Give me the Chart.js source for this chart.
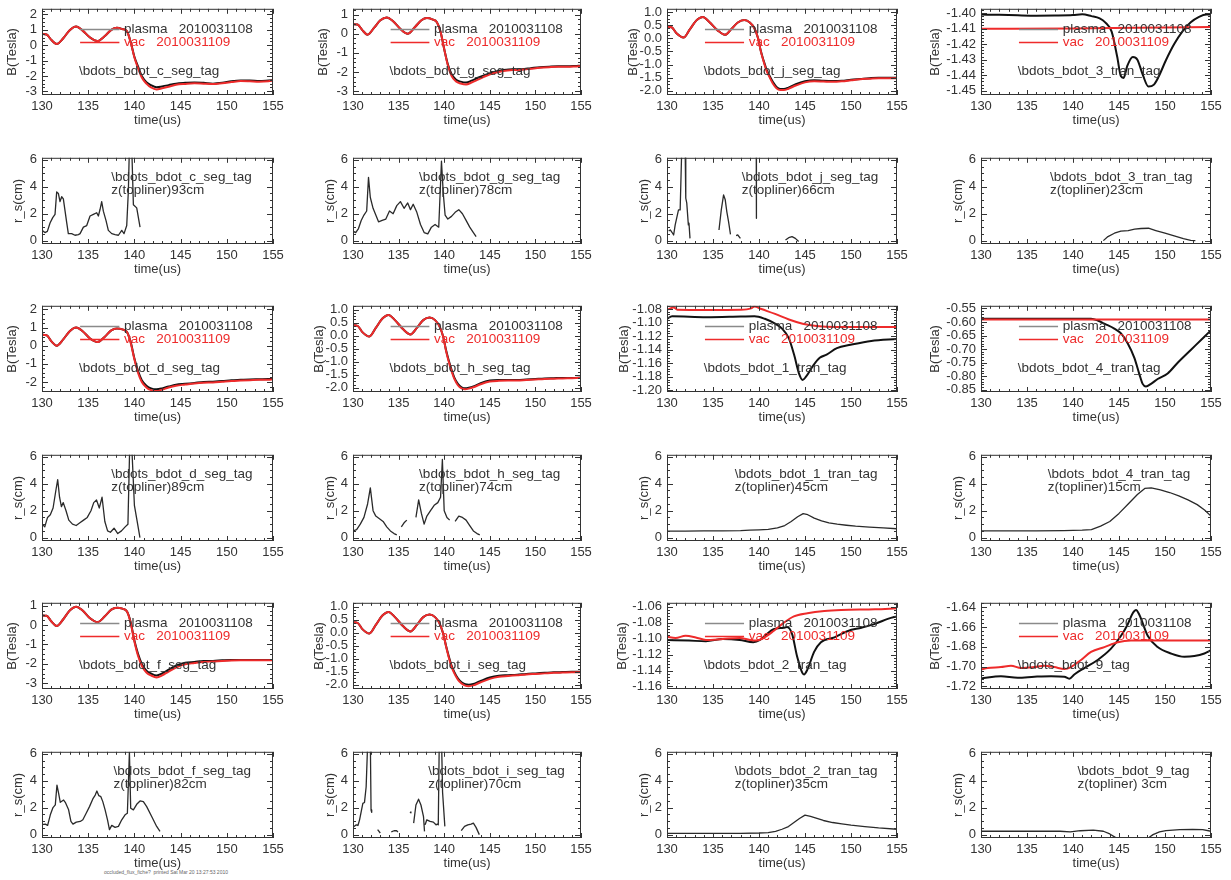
<!DOCTYPE html>
<html>
<head>
<meta charset="utf-8">
<script src="https://cdn.jsdelivr.net/npm/chart.js@4.4.0/dist/chart.umd.min.js"></script>
<style>
body { margin: 0; background: #fff; width: 1231px; height: 880px; position: relative; overflow: hidden; font-family: "Liberation Sans", Arial, sans-serif; }
canvas { position: absolute; }
#foot { position: absolute; left: 104px; top: 869px; font-size: 5px; color: #666; white-space: pre; }
</style>
</head>
<body>
<div id="foot">occluded_flux_fiche?  printed Sat Mar 20 13:27:53 2010</div>
<script>
// ---------- axis ticks ----------
const xTicks = [130, 135, 140, 145, 150, 155];
const rsTicks = [0, 2, 4, 6];

// ---------- seg probes: shared time bases ----------
const tSegA = [130,130.5,131,131.6,132.3,133,133.7,134.4,135.2,136,136.8,137.5,138.1,138.7,139.2,139.6,140,140.4,140.8,141.3,141.8,142.4,143,143.7,144.5,145.5,146.5,147.5,148.5,149.5,150.5,151.5,152.5,153.5,154.5,155];
const tSegB = [130,130.5,131,131.8,132.5,133.2,133.9,134.6,135.5,136.3,137,137.7,138.4,139,139.5,139.9,140.2,140.5,140.8,141.1,141.5,141.9,142.3,142.7,143.2,144,145,146,147,148,149,150,151,152,153,154,155];

// c_seg
const plasmaC = [0.73,0.7,0.35,0.08,0.45,0.98,1.22,0.95,0.5,0.27,0.6,1.0,1.13,1.05,0.9,0.2,-0.75,-1.4,-2.0,-2.4,-2.6,-2.73,-2.68,-2.6,-2.5,-2.45,-2.42,-2.45,-2.5,-2.45,-2.35,-2.3,-2.3,-2.33,-2.3,-2.28];
const vacC    = [0.73,0.7,0.35,0.08,0.45,0.98,1.22,0.95,0.5,0.27,0.6,1.0,1.13,1.05,0.9,0.18,-0.8,-1.5,-2.1,-2.5,-2.75,-2.88,-2.8,-2.7,-2.58,-2.52,-2.48,-2.5,-2.52,-2.47,-2.4,-2.33,-2.35,-2.38,-2.35,-2.3];
// g_seg
const plasmaG = [0.5,0.48,0.2,-0.05,0.3,0.7,0.85,0.65,0.25,0.0,0.35,0.7,0.82,0.75,0.6,0.1,-0.8,-1.6,-2.1,-2.4,-2.5,-2.55,-2.45,-2.3,-2.15,-2.0,-1.9,-1.85,-1.85,-1.8,-1.75,-1.72,-1.7,-1.7,-1.68,-1.67];
const vacG    = [0.5,0.48,0.2,-0.05,0.3,0.7,0.85,0.65,0.25,0.0,0.35,0.7,0.82,0.75,0.6,0.1,-0.8,-1.65,-2.2,-2.5,-2.6,-2.65,-2.55,-2.4,-2.22,-2.05,-1.95,-1.9,-1.88,-1.83,-1.78,-1.75,-1.73,-1.73,-1.71,-1.7];
// j_seg
const plasmaJ = [0.44,0.42,0.2,0.03,0.35,0.68,0.81,0.62,0.3,0.13,0.35,0.6,0.69,0.6,0.38,0.0,-0.49,-0.85,-1.17,-1.4,-1.66,-1.85,-1.93,-1.93,-1.88,-1.75,-1.64,-1.6,-1.62,-1.63,-1.62,-1.58,-1.55,-1.52,-1.5,-1.5,-1.5];
const vacJ    = [0.44,0.42,0.2,0.03,0.35,0.68,0.81,0.62,0.3,0.13,0.35,0.6,0.69,0.6,0.38,0.0,-0.5,-0.88,-1.22,-1.45,-1.72,-1.9,-1.97,-1.97,-1.92,-1.8,-1.68,-1.64,-1.65,-1.66,-1.64,-1.6,-1.56,-1.54,-1.52,-1.52,-1.52];
// d_seg
const plasmaD = [0.6,0.58,0.25,0.0,0.35,0.8,1.0,0.8,0.4,0.2,0.5,0.85,0.95,0.9,0.75,0.2,-0.7,-1.4,-1.9,-2.2,-2.35,-2.4,-2.35,-2.25,-2.15,-2.1,-2.05,-2.0,-1.98,-1.95,-1.9,-1.88,-1.86,-1.85,-1.84,-1.82];
const vacD    = [0.6,0.58,0.25,0.0,0.35,0.8,1.0,0.8,0.4,0.2,0.5,0.85,0.95,0.9,0.75,0.15,-0.75,-1.5,-2.0,-2.3,-2.45,-2.5,-2.42,-2.3,-2.2,-2.14,-2.08,-2.04,-2.02,-1.98,-1.94,-1.92,-1.9,-1.88,-1.87,-1.85];
// h_seg
const plasmaH = [0.4,0.38,0.15,-0.03,0.3,0.65,0.8,0.6,0.25,0.05,0.3,0.6,0.7,0.6,0.35,-0.05,-0.55,-0.95,-1.3,-1.6,-1.85,-1.98,-2.02,-2.0,-1.95,-1.82,-1.72,-1.7,-1.7,-1.7,-1.68,-1.66,-1.64,-1.63,-1.62,-1.62,-1.6];
const vacH    = [0.4,0.38,0.15,-0.03,0.3,0.65,0.8,0.6,0.25,0.05,0.3,0.6,0.7,0.6,0.35,-0.05,-0.58,-1.0,-1.35,-1.65,-1.9,-2.02,-2.05,-2.03,-1.98,-1.86,-1.76,-1.73,-1.72,-1.72,-1.7,-1.68,-1.66,-1.65,-1.64,-1.63,-1.62];
// f_seg
const plasmaF = [0.5,0.48,0.2,-0.05,0.3,0.75,0.95,0.75,0.35,0.15,0.45,0.8,0.9,0.85,0.7,0.15,-0.8,-1.5,-2.0,-2.35,-2.5,-2.6,-2.5,-2.3,-2.1,-1.95,-1.9,-1.85,-1.85,-1.82,-1.8,-1.8,-1.8,-1.8,-1.8,-1.8];
const vacF    = [0.5,0.48,0.2,-0.05,0.3,0.75,0.95,0.75,0.35,0.15,0.45,0.8,0.9,0.85,0.7,0.1,-0.85,-1.6,-2.1,-2.45,-2.6,-2.7,-2.6,-2.4,-2.2,-2.03,-1.96,-1.9,-1.88,-1.85,-1.83,-1.82,-1.82,-1.82,-1.82,-1.82];
// i_seg
const plasmaI = [0.4,0.38,0.15,-0.03,0.3,0.65,0.8,0.6,0.25,0.05,0.3,0.6,0.7,0.6,0.35,-0.05,-0.5,-0.9,-1.25,-1.5,-1.75,-1.9,-1.98,-2.0,-1.97,-1.85,-1.72,-1.65,-1.63,-1.61,-1.58,-1.56,-1.54,-1.52,-1.51,-1.5,-1.5];
const vacI    = [0.4,0.38,0.15,-0.03,0.3,0.65,0.8,0.6,0.25,0.05,0.3,0.6,0.7,0.6,0.35,-0.05,-0.52,-0.95,-1.3,-1.55,-1.8,-1.95,-2.03,-2.05,-2.02,-1.9,-1.77,-1.69,-1.66,-1.63,-1.6,-1.58,-1.56,-1.54,-1.53,-1.52,-1.52];

// ---------- tran probes ----------
const tPlasma3 = [130,132,134,136,138,140,141,142,142.9,143.5,144.2,144.8,145.2,145.5,145.9,146.5,147,147.6,148.2,148.8,149.3,150.1,151,151.9,152.8,153.7,154.5,155];
const plasma3  = [-1.401,-1.4012,-1.4015,-1.4017,-1.4016,-1.4013,-1.4008,-1.402,-1.4035,-1.406,-1.412,-1.428,-1.4405,-1.4417,-1.434,-1.4283,-1.43,-1.44,-1.4473,-1.446,-1.441,-1.4304,-1.42,-1.4118,-1.406,-1.4025,-1.401,-1.401];
const tVac3 = [130,140,150,155];
const vac3  = [-1.4102,-1.4099,-1.4093,-1.409];

const tPlasma1 = [130,130.56,134.29,138.02,139.51,140.63,141.75,142.5,143.25,143.81,144.37,144.74,145.11,145.86,146.6,147.35,148.47,149.96,152.2,155];
const plasma1  = [-1.0944,-1.0906,-1.092,-1.091,-1.0906,-1.0944,-1.1016,-1.1088,-1.1232,-1.1472,-1.176,-1.1846,-1.1798,-1.164,-1.152,-1.1472,-1.1376,-1.1328,-1.127,-1.1242];
const tVac1 = [130,130.75,131.12,134.29,138.02,139.14,139.51,140.26,141.75,143.25,144.74,146.23,148.47,155];
const vac1  = [-1.081,-1.0776,-1.081,-1.0814,-1.081,-1.079,-1.0762,-1.08,-1.0872,-1.0954,-1.1016,-1.105,-1.1064,-1.1064];

const tPlasma4 = [130,137.61,141.96,142.68,143.41,144.49,145.22,145.94,146.67,147.21,147.57,147.93,148.48,149.2,150.29,151.38,152.83,154.28,155];
const plasma4  = [-0.5884,-0.5884,-0.5884,-0.5944,-0.6064,-0.6244,-0.6424,-0.6784,-0.7324,-0.7924,-0.8284,-0.838,-0.8284,-0.8104,-0.79,-0.7504,-0.7024,-0.6544,-0.6304];
const tVac4 = [130,140,150,155];
const vac4  = [-0.5905,-0.5905,-0.591,-0.591];

const tPlasma2 = [130,132.39,134.23,136.07,137.9,139.38,140.11,140.85,141.58,142.68,143.05,143.6,144.15,144.71,144.89,145.26,145.99,146.73,148.2,149.67,151.14,152.61,154.08,155];
const plasma2  = [-1.1017,-1.1025,-1.1033,-1.1005,-1.1017,-1.1045,-1.1017,-1.0944,-1.0883,-1.0863,-1.0855,-1.0944,-1.1228,-1.143,-1.145,-1.1389,-1.1167,-1.1045,-1.0985,-1.0904,-1.0863,-1.0815,-1.075,-1.0721];
const tVac2 = [130,130.92,132.02,133.13,134.23,136.07,137.9,139.01,139.74,140.48,141.58,142.68,143.79,145.26,147.1,148.93,152.61,155];
const vac2  = [-1.0977,-1.0993,-1.0964,-1.0985,-1.1017,-1.1005,-1.0993,-1.1017,-1.1025,-1.0993,-1.0904,-1.0802,-1.0721,-1.0681,-1.0653,-1.064,-1.0632,-1.062];

const tPlasma9 = [130,132.17,133.99,135.8,137.61,139.06,139.6,140.14,141.23,142.68,144.13,145.22,145.94,146.49,146.85,147.21,148.12,149.2,150.65,152.1,153.19,154.28,155];
const plasma9  = [-1.712,-1.7096,-1.7112,-1.7102,-1.7096,-1.7102,-1.7122,-1.7079,-1.7014,-1.6932,-1.6818,-1.6687,-1.6573,-1.6459,-1.6426,-1.6475,-1.6687,-1.6802,-1.6867,-1.69,-1.6893,-1.6867,-1.6834];
const tVac9 = [130,130.72,132.17,133.26,134.35,135.8,136.88,137.97,139.06,139.78,140.87,141.96,143.41,144.86,146.3,148.48,155];
const vac9  = [-1.703,-1.7014,-1.7004,-1.6991,-1.7014,-1.7004,-1.6991,-1.7004,-1.7024,-1.7004,-1.6932,-1.6851,-1.6802,-1.6753,-1.6736,-1.6736,-1.6736];

// ---------- r_s (null = no value) ----------
const tRc = [130,130.32,130.58,130.87,131.16,131.41,131.59,131.77,131.95,132.13,132.31,132.67,132.85,133.21,133.57,133.94,134.12,134.48,134.84,135.2,135.56,135.92,136.1,136.28,136.46,136.64,136.93,137.18,137.55,137.91,138.27,138.63,138.88,139.17,139.35,139.46,139.71,139.89,140.25,140.61];
const rsC = [0.76,0.6,0.69,1.31,1.71,1.95,3.62,3.5,2.9,3.26,3.1,1.36,0.52,0.52,0.4,0.45,0.52,1.0,1.12,1.83,1.95,2.07,1.83,2.31,2.9,2.19,1.48,0.76,0.52,0.45,0.4,0.76,0.52,1.12,3.74,7,7,2.67,2.43,1.0];
const tRg = [130,130.3,130.6,130.9,131.2,131.5,131.7,131.9,132.2,132.5,132.8,133.2,133.6,134,134.4,134.8,135.2,135.6,136,136.3,136.6,137,137.4,137.8,138.2,138.6,139,139.4,139.7,139.9,140.1,140.4,140.8,141.2,141.6,142,142.4,142.8,143.2,143.5];
const rsG = [0.7,0.6,0.9,1.5,1.9,2.2,4.7,3.2,2.4,1.9,1.4,1.5,1.6,2.2,2.0,2.6,2.9,2.4,2.8,2.3,2.7,2.1,1.2,0.6,0.5,1.0,1.2,1.0,5.9,3.5,1.9,1.6,1.8,2.1,2.3,2.0,1.5,1.0,0.6,0.3];
const tRj = [130.18,130.36,130.54,130.72,130.89,131.25,131.43,131.61,131.79,131.97,132.04,132.15,132.32,132.39,132.5,133.5,135.65,135.9,136.15,136.33,136.5,136.69,136.9,137.2,137.51,137.69,137.98,138.8,139.7,139.72,141,142.88,143.23,143.59,143.95,144.31];
const rsJ = [0.72,0.79,0.62,0.42,1.17,2.28,2.28,7,7,7,3.15,2.78,1.17,1.29,0.17,null,0.79,2.28,3.4,3.03,2.16,1.41,0.47,null,0.37,0.42,0.17,null,7,1.66,null,0.05,0.22,0.3,0.17,-0.07];
const tR3 = [143.3,143.8,144.5,145.2,146,146.7,147.4,148.2,149,150,151,152,152.8,153.3];
const rs3 = [0,0.3,0.55,0.7,0.75,0.85,0.9,0.92,0.75,0.55,0.35,0.15,0.02,0];
const tRd = [130,130.3,130.6,130.9,131.2,131.5,131.7,131.9,132.1,132.3,132.6,132.9,133.3,133.7,134.1,134.5,134.9,135.3,135.6,135.9,136.2,136.5,136.8,137.1,137.4,137.8,138.2,138.6,139,139.3,139.5,139.7,140,140.3,140.6];
const rsD = [1.0,0.8,1.5,1.7,2.2,3.5,4.3,3.0,2.3,2.6,2.0,1.3,1.0,0.9,1.1,1.3,1.5,2.0,2.6,2.8,2.2,3.0,1.2,0.5,0.4,0.7,0.3,0.5,0.8,1.0,7,7,2.4,1.2,0.0];
const tRh = [130,130.4,130.8,131.2,131.6,131.9,132.2,132.5,132.9,133.3,133.7,134.1,134.5,134.8,135.0,135.3,135.6,135.9,136.4,136.9,137.2,137.5,137.8,138.1,138.5,138.9,139.3,139.6,139.8,140.0,140.3,140.6,140.9,141.2,141.6,142,142.4,142.8,143.2,143.6,143.9];
const rsH = [0.5,0.6,1.0,1.5,2.5,3.7,2.0,1.6,1.4,1.2,0.8,0.5,0.3,0.2,null,0.8,1.1,1.3,null,1.5,2.8,1.8,1.0,1.6,2.0,2.4,2.6,3.0,5.8,2.0,1.5,1.3,null,1.2,1.6,1.5,1.3,0.9,0.5,0.3,0.2];
const tR1 = [130,132,134,136,138,139,140,141,142,142.8,143.5,144.2,144.8,145.3,146,146.8,147.6,148.5,149.5,150.5,152,153.5,155];
const rs1 = [0.48,0.48,0.5,0.5,0.52,0.55,0.58,0.62,0.72,0.9,1.2,1.55,1.78,1.7,1.45,1.25,1.1,1.0,0.92,0.85,0.78,0.72,0.66];
const tR4 = [130,133,136,139,141,142,143,144,145,146,147,147.8,148.5,149.5,150.5,151.5,152.5,153.5,154.3,155];
const rs4 = [0.5,0.5,0.5,0.52,0.55,0.6,0.85,1.2,1.8,2.5,3.2,3.65,3.7,3.55,3.35,3.1,2.8,2.45,2.05,1.6];
const tRf = [130,130.36,130.61,130.9,131.19,131.44,131.62,131.8,131.98,132.34,132.52,132.88,133.13,133.35,133.71,134.14,134.42,134.78,135.14,135.5,135.76,135.94,136.15,136.37,136.58,136.83,137.09,137.3,137.55,137.91,138.27,138.63,138.99,139.24,139.46,139.6,139.89,140.25,140.61,140.97,141.33,141.87,142.41,142.77];
const rsF = [0.74,0.78,0.69,1.47,2.01,2.21,3.68,3.06,2.4,2.57,2.4,1.84,0.98,0.78,0.93,0.98,1.1,1.59,2.08,2.65,2.94,3.24,2.89,2.82,2.45,1.84,1.1,0.37,0.69,0.54,0.61,1.1,1.47,1.59,6.13,1.96,1.84,2.25,2.5,2.45,2.08,1.35,0.61,0.25];
const tRi = [130,130.36,130.54,130.72,131.08,131.26,131.44,131.62,131.7,131.8,131.9,131.98,132.05,132.3,132.7,132.99,133.5,134.2,134.5,134.78,134.93,135.5,136.25,136.35,136.5,136.65,136.9,137.19,137.45,137.73,137.84,137.88,137.91,138.09,138.45,138.81,139.1,139.24,139.35,139.46,139.71,139.82,140.07,140.5,141.87,142.23,142.59,142.95,143.2,143.49,143.85];
const rsI = [0.54,0.73,0.68,1.1,2.32,2.39,3.54,7,7,7,7,1.83,1.66,null,0.37,0.12,null,0.2,0.29,0.29,0.2,null,1.68,1.62,null,0.85,2.2,2.63,2.2,1.34,0.24,null,0.73,1.1,0.98,0.93,0.73,0.78,0.73,7,7,3.17,0.61,null,0.29,0.61,0.73,0.78,0.85,0.54,0.0];
const tR2 = [130,132,134,136,138,140,141,141.8,142.5,143.2,143.8,144.4,145,145.6,146.3,147,148,149,150,151.5,153,155];
const rs2 = [0.1,0.1,0.1,0.1,0.1,0.12,0.15,0.25,0.4,0.6,0.9,1.2,1.45,1.35,1.2,1.05,0.9,0.8,0.7,0.6,0.5,0.4];
const tR9 = [130,134.3,138.6,139.7,140.8,142.2,143.3,144,144.6,144.9,146.5,148,148.3,148.7,149.4,150.1,151.6,153,154.1,155];
const rs9 = [0.25,0.25,0.25,0.2,0.29,0.34,0.25,0.05,-0.2,-0.5,-1.5,-0.5,-0.2,0,0.2,0.29,0.37,0.39,0.37,0.25];

// ---------- layout ----------
const colBox = [[42, 273], [353, 581], [667, 897], [981, 1211]];
const rowTop = [6, 155, 303, 452, 600, 749];
const boxH = 89, padTop = 10, padRight = 25, xAxisH = 33;
const RED = '#ee2b2b';
const rsRange = [-0.25, 6.15];

const panels = [
  {r:0, c:0, kind:'B', range:[-3.24, 2.37], ticks:[-3,-2,-1,0,1,2], dec:0, w:37, plasma:[tSegA, plasmaC], vac:[tSegA, vacC], tag:'\\bdots_bdot_c_seg_tag'},
  {r:0, c:1, kind:'B', range:[-3.2, 1.3], ticks:[-3,-2,-1,0,1], dec:0, w:37, plasma:[tSegA, plasmaG], vac:[tSegA, vacG], tag:'\\bdots_bdot_g_seg_tag'},
  {r:0, c:2, kind:'B', range:[-2.16, 1.12], ticks:[-2,-1.5,-1,-0.5,0,0.5,1], dec:1, w:41, plasma:[tSegB, plasmaJ], vac:[tSegB, vacJ], tag:'\\bdots_bdot_j_seg_tag'},
  {r:0, c:3, kind:'B', range:[-1.4527, -1.3973], ticks:[-1.45,-1.44,-1.43,-1.42,-1.41,-1.40], dec:2, w:53, plasma:[tPlasma3, plasma3], vac:[tVac3, vac3], tag:'\\bdots_bdot_3_tran_tag'},
  {r:1, c:0, kind:'R', rs:[tRc, rsC], w:31, tag:'\\bdots_bdot_c_seg_tag', z:'z(topliner)93cm', tx:0.30},
  {r:1, c:1, kind:'R', rs:[tRg, rsG], w:30, tag:'\\bdots_bdot_g_seg_tag', z:'z(topliner)78cm', tx:0.29},
  {r:1, c:2, kind:'R', rs:[tRj, rsJ], w:30, tag:'\\bdots_bdot_j_seg_tag', z:'z(topliner)66cm', tx:0.325},
  {r:1, c:3, kind:'R', rs:[tR3, rs3], w:30, tag:'\\bdots_bdot_3_tran_tag', z:'z(topliner)23cm', tx:0.30},
  {r:2, c:0, kind:'B', range:[-2.55, 2.2], ticks:[-2,-1,0,1,2], dec:0, w:37, plasma:[tSegA, plasmaD], vac:[tSegA, vacD], tag:'\\bdots_bdot_d_seg_tag'},
  {r:2, c:1, kind:'B', range:[-2.16, 1.15], ticks:[-2,-1.5,-1,-0.5,0,0.5,1], dec:1, w:41, plasma:[tSegB, plasmaH], vac:[tSegB, vacH], tag:'\\bdots_bdot_h_seg_tag'},
  {r:2, c:2, kind:'B', range:[-1.2024, -1.0752], ticks:[-1.20,-1.18,-1.16,-1.14,-1.12,-1.10,-1.08], dec:2, w:50, plasma:[tPlasma1, plasma1], vac:[tVac1, vac1], tag:'\\bdots_bdot_1_tran_tag'},
  {r:2, c:3, kind:'B', range:[-0.8584, -0.5404], ticks:[-0.85,-0.80,-0.75,-0.70,-0.65,-0.60,-0.55], dec:2, w:53, plasma:[tPlasma4, plasma4], vac:[tVac4, vac4], tag:'\\bdots_bdot_4_tran_tag'},
  {r:3, c:0, kind:'R', rs:[tRd, rsD], w:31, tag:'\\bdots_bdot_d_seg_tag', z:'z(topliner)89cm', tx:0.30},
  {r:3, c:1, kind:'R', rs:[tRh, rsH], w:30, tag:'\\bdots_bdot_h_seg_tag', z:'z(topliner)74cm', tx:0.29},
  {r:3, c:2, kind:'R', rs:[tR1, rs1], w:30, tag:'\\bdots_bdot_1_tran_tag', z:'z(topliner)45cm', tx:0.295},
  {r:3, c:3, kind:'R', rs:[tR4, rs4], w:30, tag:'\\bdots_bdot_4_tran_tag', z:'z(topliner)15cm', tx:0.29},
  {r:4, c:0, kind:'B', range:[-3.3, 1.15], ticks:[-3,-2,-1,0,1], dec:0, w:37, plasma:[tSegA, plasmaF], vac:[tSegA, vacF], tag:'\\bdots_bdot_f_seg_tag'},
  {r:4, c:1, kind:'B', range:[-2.16, 1.15], ticks:[-2,-1.5,-1,-0.5,0,0.5,1], dec:1, w:41, plasma:[tSegB, plasmaI], vac:[tSegB, vacI], tag:'\\bdots_bdot_i_seg_tag'},
  {r:4, c:2, kind:'B', range:[-1.1632, -1.0551], ticks:[-1.16,-1.14,-1.12,-1.10,-1.08,-1.06], dec:2, w:52, plasma:[tPlasma2, plasma2], vac:[tVac2, vac2], tag:'\\bdots_bdot_2_tran_tag'},
  {r:4, c:3, kind:'B', range:[-1.7226, -1.6354], ticks:[-1.72,-1.70,-1.68,-1.66,-1.64], dec:2, w:53, plasma:[tPlasma9, plasma9], vac:[tVac9, vac9], tag:'\\bdots_bdot_9_tag'},
  {r:5, c:0, kind:'R', rs:[tRf, rsF], w:31, tag:'\\bdots_bdot_f_seg_tag', z:'z(topliner)82cm', tx:0.31},
  {r:5, c:1, kind:'R', rs:[tRi, rsI], w:30, tag:'\\bdots_bdot_i_seg_tag', z:'z(topliner)70cm', tx:0.33},
  {r:5, c:2, kind:'R', rs:[tR2, rs2], w:30, tag:'\\bdots_bdot_2_tran_tag', z:'z(topliner)35cm', tx:0.295},
  {r:5, c:3, kind:'R', rs:[tR9, rs9], w:30, tag:'\\bdots_bdot_9_tag', z:'z(topliner) 3cm', tx:0.42}
];

Chart.defaults.font.family = '"Liberation Sans", Arial, Helvetica, sans-serif';
Chart.defaults.font.size = 13;
Chart.defaults.color = '#333';

function pts(t, v) { return t.map((x, i) => ({x: x, y: v[i]})); }

// IDL-style frame: box with inward ticks on all four sides, plus in-plot labels
const idlFrame = {
  id: 'idlFrame',
  afterDatasetsDraw(chart, args, o) {
    const {ctx, chartArea: a} = chart;
    const xs = chart.scales.x, ys = chart.scales.y;
    ctx.save();
    ctx.strokeStyle = '#333';
    ctx.lineWidth = 1;
    ctx.strokeRect(a.left + 0.5, a.top + 0.5, a.width - 1, a.height - 1);
    ctx.beginPath();
    for (let k = 0; k <= 25; k++) {
      const px = Math.round(xs.getPixelForValue(130 + k)) + 0.5;
      const len = k % 5 === 0 ? 5 : 3;
      ctx.moveTo(px, a.bottom); ctx.lineTo(px, a.bottom - len);
      ctx.moveTo(px, a.top); ctx.lineTo(px, a.top + len);
    }
    const tk = o.ticks, step = tk[1] - tk[0], minor = step / o.minor;
    const k0 = Math.ceil((ys.min - tk[0]) / minor - 1e-6);
    const k1 = Math.floor((ys.max - tk[0]) / minor + 1e-6);
    for (let k = k0; k <= k1; k++) {
      const py = Math.round(ys.getPixelForValue(tk[0] + k * minor)) + 0.5;
      const len = ((k % o.minor) + o.minor) % o.minor === 0 ? 6 : 3;
      ctx.moveTo(a.left, py); ctx.lineTo(a.left + len, py);
      ctx.moveTo(a.right, py); ctx.lineTo(a.right - len, py);
    }
    ctx.stroke();

    const fx = f => a.left + f * a.width, fy = f => a.top + f * a.height;
    ctx.font = '13.5px "Liberation Sans", Arial, sans-serif';
    ctx.textBaseline = 'middle';
    ctx.textAlign = 'left';
    if (o.kind === 'B') {
      ctx.lineWidth = 1.5;
      ctx.strokeStyle = '#8a8a8a';
      ctx.beginPath(); ctx.moveTo(fx(0.165), fy(0.24)); ctx.lineTo(fx(0.335), fy(0.24)); ctx.stroke();
      ctx.strokeStyle = RED;
      ctx.beginPath(); ctx.moveTo(fx(0.165), fy(0.39)); ctx.lineTo(fx(0.335), fy(0.39)); ctx.stroke();
      ctx.fillStyle = '#333';
      ctx.fillText('plasma   2010031108', fx(0.355), fy(0.24));
      ctx.fillStyle = RED;
      ctx.fillText('vac   2010031109', fx(0.355), fy(0.39));
      ctx.fillStyle = '#333';
      ctx.fillText(o.tag, fx(0.16), fy(0.73));
    } else {
      ctx.fillStyle = '#333';
      ctx.fillText(o.tag, fx(o.tx), fy(0.23));
      ctx.fillText(o.z, fx(o.tx), fy(0.38));
    }
    ctx.restore();
  }
};

panels.forEach(p => {
  const [bx0, bx1] = colBox[p.c];
  const by0 = rowTop[p.r];
  const cv = document.createElement('canvas');
  cv.width = p.w + (bx1 - bx0) + padRight;
  cv.height = padTop + boxH + xAxisH;
  cv.style.left = (bx0 - p.w) + 'px';
  cv.style.top = (by0 - padTop) + 'px';
  document.body.appendChild(cv);

  const isB = p.kind === 'B';
  const range = isB ? p.range : rsRange;
  const yTicks = isB ? p.ticks : rsTicks;
  const dec = isB ? p.dec : 0;
  const datasets = isB ? [
    {data: pts(p.vac[0], p.vac[1]), borderColor: RED, borderWidth: 2, cubicInterpolationMode: 'monotone'},
    {data: pts(p.plasma[0], p.plasma[1]), borderColor: '#111', borderWidth: 2, cubicInterpolationMode: 'monotone'}
  ] : [
    {data: pts(p.rs[0], p.rs[1]), borderColor: '#2a2a2a', borderWidth: 1.3, tension: 0}
  ];
  datasets.forEach(d => { d.pointRadius = 0; d.fill = false; d.spanGaps = false; d.borderJoinStyle = 'round'; });

  new Chart(cv, {
    type: 'line',
    data: {datasets: datasets},
    plugins: [idlFrame],
    options: {
      responsive: false,
      animation: false,
      events: [],
      layout: {padding: {top: padTop, right: padRight, left: 0, bottom: 0}},
      plugins: {
        legend: {display: false},
        tooltip: {enabled: false},
        idlFrame: {kind: p.kind, ticks: yTicks, minor: isB && dec === 2 ? 5 : 4, tag: p.tag, z: p.z, tx: p.tx}
      },
      scales: {
        x: {
          type: 'linear', min: 130, max: 155,
          grid: {display: false, drawTicks: false}, border: {display: false},
          afterBuildTicks: s => { s.ticks = xTicks.map(v => ({value: v})); },
          ticks: {padding: 4, maxRotation: 0, autoSkip: false, color: '#333'},
          title: {display: true, text: 'time(us)', padding: 0, color: '#333'},
          afterFit: s => { s.height = xAxisH; }
        },
        y: {
          type: 'linear', min: range[0], max: range[1],
          grid: {display: false, drawTicks: false}, border: {display: false},
          afterBuildTicks: s => { s.ticks = yTicks.map(v => ({value: v})); },
          ticks: {padding: 5, autoSkip: false, color: '#333', callback: v => Number(v).toFixed(dec)},
          title: {display: true, text: isB ? 'B(Tesla)' : 'r_s(cm)', padding: 0, color: '#333'},
          afterFit: s => { s.width = p.w; }
        }
      }
    }
  });
});
</script>
</body>
</html>
